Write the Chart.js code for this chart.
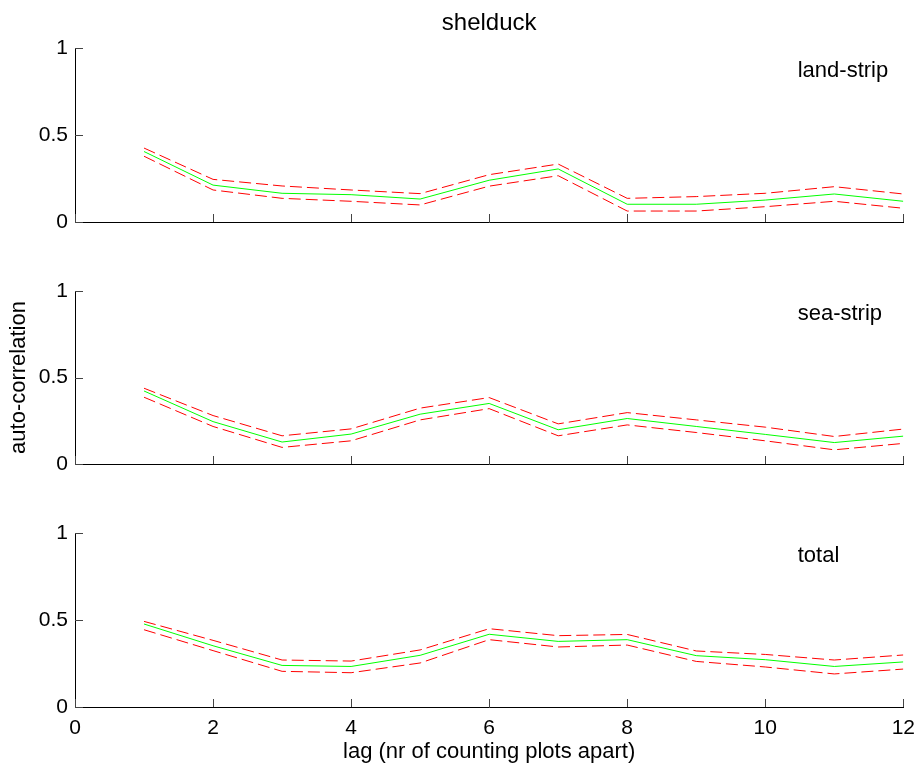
<!DOCTYPE html>
<html>
<head>
<meta charset="utf-8">
<title>shelduck</title>
<script src="https://cdn.jsdelivr.net/npm/chart.js@4/dist/chart.umd.min.js"></script>
<style>
  body { margin: 0; background: #fff; }
  #wrap { position: relative; width: 924px; height: 765px; }
  #wrap canvas { position: absolute; left: 0; top: 0; }
</style>
</head>
<body>
<div id="wrap">
  <canvas id="land" width="924" height="765"></canvas>
  <canvas id="sea" width="924" height="765"></canvas>
  <canvas id="total" width="924" height="765"></canvas>
</div>
<script>
const lags = [1, 2, 3, 4, 5, 6, 7, 8, 9, 10, 11, 12];

const landMean  = [0.405, 0.212, 0.165, 0.157, 0.132, 0.240, 0.305, 0.102, 0.102, 0.126, 0.161, 0.119];
const landUpper = [0.425, 0.245, 0.207, 0.184, 0.163, 0.272, 0.333, 0.136, 0.146, 0.165, 0.203, 0.161];
const landLower = [0.378, 0.184, 0.136, 0.119, 0.098, 0.206, 0.266, 0.063, 0.063, 0.088, 0.119, 0.079];

const seaMean  = [0.422, 0.245, 0.127, 0.173, 0.288, 0.350, 0.198, 0.263, 0.217, 0.171, 0.124, 0.161];
const seaUpper = [0.438, 0.280, 0.163, 0.203, 0.323, 0.384, 0.232, 0.297, 0.255, 0.213, 0.159, 0.202];
const seaLower = [0.386, 0.217, 0.096, 0.134, 0.255, 0.320, 0.163, 0.226, 0.182, 0.134, 0.082, 0.119];

const totalMean  = [0.477, 0.352, 0.239, 0.233, 0.297, 0.418, 0.377, 0.387, 0.295, 0.272, 0.233, 0.259];
const totalUpper = [0.492, 0.383, 0.270, 0.264, 0.328, 0.450, 0.410, 0.417, 0.322, 0.302, 0.270, 0.299];
const totalLower = [0.444, 0.324, 0.205, 0.197, 0.253, 0.387, 0.345, 0.356, 0.262, 0.230, 0.190, 0.218];

const FONT = '"Liberation Sans", Arial, Helvetica, sans-serif';
Chart.defaults.font.family = FONT;
Chart.defaults.color = "#000";

// matlab style tick marks pointing into the plot
const innerTicks = {
  id: "innerTicks",
  afterDraw(chart) {
    const { ctx, chartArea, scales } = chart;
    ctx.save();
    ctx.strokeStyle = "#444";
    ctx.lineWidth = 1;
    ctx.beginPath();
    scales.x.ticks.forEach(t => {
      const px = Math.round(scales.x.getPixelForValue(t.value)) + 0.5;
      ctx.moveTo(px, Math.round(chartArea.bottom));
      ctx.lineTo(px, Math.round(chartArea.bottom) - 8);
    });
    scales.y.ticks.forEach(t => {
      const py = Math.round(scales.y.getPixelForValue(t.value)) + 0.5;
      ctx.moveTo(Math.round(chartArea.left), py);
      ctx.lineTo(Math.round(chartArea.left) + 8, py);
    });
    ctx.stroke();
    ctx.restore();
  }
};

// the little name written inside each panel
const panelLabel = {
  id: "panelLabel",
  afterDatasetsDraw(chart, args, opts) {
    if (!opts.text) return;
    const { ctx, scales } = chart;
    ctx.save();
    ctx.font = "22px " + FONT;
    ctx.fillStyle = "#000";
    ctx.textAlign = "left";
    ctx.textBaseline = "alphabetic";
    ctx.fillText(opts.text, scales.x.getPixelForValue(opts.x), scales.y.getPixelForValue(opts.y));
    ctx.restore();
  }
};

const W = 924, H = 765;
const LEFT = 75, RIGHT = 911;

function makePanel(id, name, mean, upper, lower, top, bottom, opts) {
  const isBottom = opts.bottom;
  const dashed = color => ({ borderColor: color, borderWidth: 1, borderDash: [12, 5], pointRadius: 0, tension: 0, fill: false });

  return new Chart(document.getElementById(id), {
    type: "line",
    data: {
      labels: lags,
      datasets: [
        { label: name + " upper", data: upper, ...dashed("#ff0000") },
        { label: name + " lower", data: lower, ...dashed("#ff0000") },
        { label: name, data: mean, borderColor: "#00ff00", borderWidth: 1, pointRadius: 0, tension: 0, fill: false },
      ],
    },
    options: {
      responsive: false,
      animation: false,
      devicePixelRatio: 1,
      events: [],
      layout: {
        padding: {
          left: 0,
          right: W - RIGHT,
          top: opts.title ? 0 : top,
          bottom: isBottom ? 0 : H - bottom,
        },
      },
      plugins: {
        legend: { display: false },
        tooltip: { enabled: false },
        title: {
          display: !!opts.title,
          text: opts.title || "",
          fullSize: false,
          color: "#000",
          font: { size: 24, weight: "normal", lineHeight: 1.2 },
          padding: { top: 9, bottom: top - 28.8 - 9 },
        },
        panelLabel: { text: name, x: 10.47, y: 0.835 },
      },
      scales: {
        x: {
          type: "linear",
          min: 0,
          max: 12,
          grid: { display: false, drawTicks: false },
          border: { display: true, color: "#000", width: 1 },
          ticks: { display: isBottom, stepSize: 2, padding: 9, color: "#000", font: { size: 21 } },
          title: {
            display: isBottom,
            text: "lag (nr of counting plots apart)",
            color: "#000",
            font: { size: 22 },
            padding: { top: 0, bottom: 0 },
          },
          afterFit(scale) { scale.height = isBottom ? H - bottom : 0; },
        },
        y: {
          min: 0,
          max: 1,
          grid: { display: false, drawTicks: false },
          border: { display: true, color: "#000", width: 1 },
          ticks: {
            stepSize: 0.5,
            padding: 7,
            color: "#000",
            font: { size: 21 },
            callback: v => String(v),
          },
          title: {
            display: !!opts.yTitle,
            text: "auto-correlation",
            color: "#000",
            font: { size: 22 },
            padding: { top: 6, bottom: 0 },
          },
          afterFit(scale) { scale.width = LEFT; },
        },
      },
    },
    plugins: [innerTicks, panelLabel],
  });
}

makePanel("land", "land-strip", landMean, landUpper, landLower, 48, 222, { title: "shelduck" });
makePanel("sea", "sea-strip", seaMean, seaUpper, seaLower, 291, 464, { yTitle: true });
makePanel("total", "total", totalMean, totalUpper, totalLower, 533, 707, { bottom: true });
</script>
</body>
</html>
